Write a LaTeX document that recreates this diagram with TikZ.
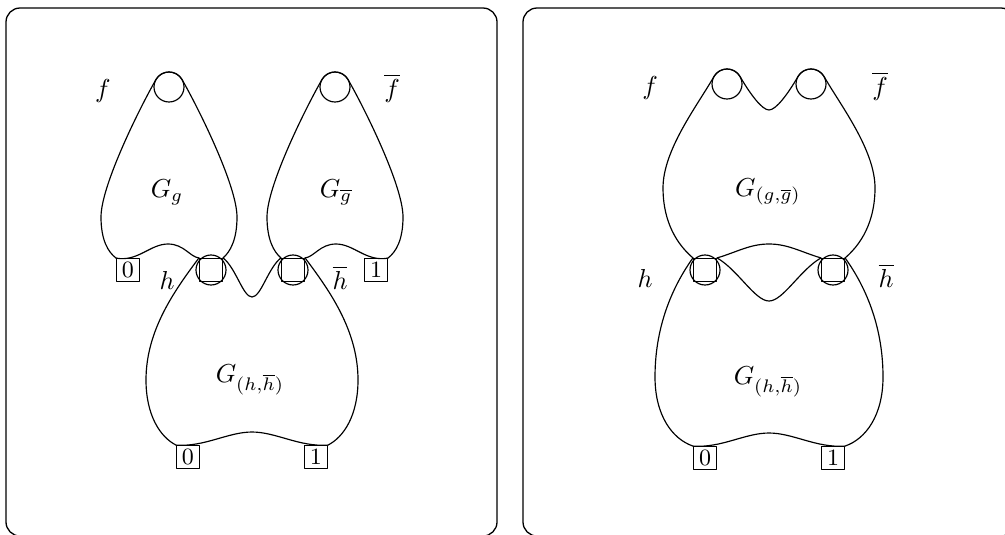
\documentclass[tikz,border=0pt]{standalone}
\usepackage{amsmath,amssymb}
\usepackage{tikz}

\begin{document}
\begin{tikzpicture}[x=0.385pt,y=-0.385pt,line cap=round,line join=round,line width=.45pt,
  panel/.style={line width=.5pt,rounded corners=5.4pt},
  termbox/.style={draw,rectangle,inner sep=0pt,minimum size=8.7pt,font=\small},
  portsq/.style={draw,rectangle,inner sep=0pt,minimum size=8.85pt},
  ring/.style={draw,circle,inner sep=0pt,minimum size=11.55pt},
  lbl/.style={inner sep=0pt}]
\useasboundingbox (0,0) rectangle (1005,534);
\draw[panel] (6,8) rectangle (497,536);
\draw[panel] (523,8) rectangle (1015,536);
% left panel
\node[termbox] (l0) at (128,270) {0};
\node[termbox] (l1) at (376,270) {1};
\node[portsq] (lh) at (211,270) {};
\node[portsq] (lhb) at (293,270) {};
\node[ring] (lhc) at (lh) {};
\node[ring] (lhbc) at (lhb) {};
\node[ring] (lfc) at (169,87) {};
\node[ring] (lfbc) at (335,87) {};
\node[termbox] (b0) at (188,457) {0};
\node[termbox] (b1) at (316,457) {1};
\draw (l0.north west) .. controls (138,262) and (150,244) .. (168,244) .. controls (184,244) and (190,257) .. (lh.north west);
\draw (lh.north east) .. controls (230,252) and (237,240) .. (237,217) .. controls (237,185) and (197,105.5) .. (182,79.5) .. controls (179.3,74.9) and (174.4,72) .. (169,72) .. controls (163.6,72) and (158.7,74.9) .. (156,79.5) .. controls (141,105.5) and (101,185) .. (101,217) .. controls (101,240) and (108,252) .. (l0.north west);
\draw (l1.north east) .. controls (366,262) and (354,244) .. (336,244) .. controls (320,244) and (314,257) .. (lhb.north east);
\draw (lhb.north west) .. controls (274,252) and (267,240) .. (267,217) .. controls (267,185) and (307,105.5) .. (322,79.5) .. controls (324.7,74.9) and (329.6,72) .. (335,72) .. controls (340.4,72) and (345.3,74.9) .. (348,79.5) .. controls (363,105.5) and (403,185) .. (403,217) .. controls (403,240) and (396,252) .. (l1.north east);
\draw (lh.north west) .. controls (175,290) and (146,330) .. (146,380) .. controls (146,415) and (160,437) .. (b0.north west);
\draw (lhb.north east) .. controls (329,290) and (358,330) .. (358,380) .. controls (358,415) and (344,437) .. (b1.north east);
\draw (lh.north east) .. controls (236,268) and (243,297) .. (252,297) .. controls (261,297) and (268,268) .. (lhb.north west);
\draw (b0.north west) .. controls (205,447) and (228,432) .. (252,432) .. controls (276,432) and (299,447) .. (b1.north east);
\node[lbl] (lf) at (103,91) {$f$};
\node[lbl] (lfb) at (392,88) {$\overline{f}$};
\node[lbl] (lgg) at (167,192) {$G_g$};
\node[lbl] (lggb) at (336,192) {$G_{\overline{g}}$};
\node[lbl] (lhl) at (167,280) {$h$};
\node[lbl] (lhbl) at (340,278) {$\overline{h}$};
\node[lbl] (lghh) at (250,380) {$G_{(h,\overline{h})}$};
% right panel
\node[portsq] (rh) at (705,270) {};
\node[portsq] (rhb) at (833,270) {};
\node[ring] (rhc) at (rh) {};
\node[ring] (rhbc) at (rhb) {};
\node[ring] (rfc) at (727,84) {};
\node[ring] (rfbc) at (811,84) {};
\node[termbox] (r0) at (705,458) {0};
\node[termbox] (r1) at (833,458) {1};
\draw (rh.north west) .. controls (672,240) and (663,215) .. (663,188) .. controls (663,150) and (697,106) .. (714,76.5) .. controls (716.7,71.9) and (721.6,69) .. (727,69) .. controls (732.4,69) and (737.3,71.9) .. (740,76.5) .. controls (750,93.8) and (762,110) .. (769,110) .. controls (776,110) and (788,93.8) .. (798,76.5) .. controls (800.7,71.9) and (805.6,69) .. (811,69) .. controls (816.4,69) and (821.3,71.9) .. (824,76.5) .. controls (841,106) and (875,150) .. (875,188) .. controls (875,215) and (866,240) .. (rhb.north east);
\draw (rh.north east) .. controls (737,252) and (750,244) .. (769,244) .. controls (788,244) and (801,252) .. (rhb.north west);
\draw (rh.north east) .. controls (738,270) and (755,301) .. (769,301) .. controls (783,301) and (800,270) .. (rhb.north west);
\draw (rh.north west) .. controls (670,290) and (655,330) .. (655,377) .. controls (655,415) and (672,439) .. (r0.north west);
\draw (rhb.north east) .. controls (868,290) and (883,330) .. (883,377) .. controls (883,415) and (866,439) .. (r1.north east);
\draw (r0.north west) .. controls (722,448) and (745,433) .. (769,433) .. controls (793,433) and (816,448) .. (r1.north east);
\node[lbl] (rf) at (650,88) {$f$};
\node[lbl] (rfb) at (880,86) {$\overline{f}$};
\node[lbl] (rggg) at (768,192) {$G_{(g,\overline{g})}$};
\node[lbl] (rhl) at (645,278) {$h$};
\node[lbl] (rhbl) at (886,276) {$\overline{h}$};
\node[lbl] (rghh) at (768,382) {$G_{(h,\overline{h})}$};
\end{tikzpicture}
\end{document}
